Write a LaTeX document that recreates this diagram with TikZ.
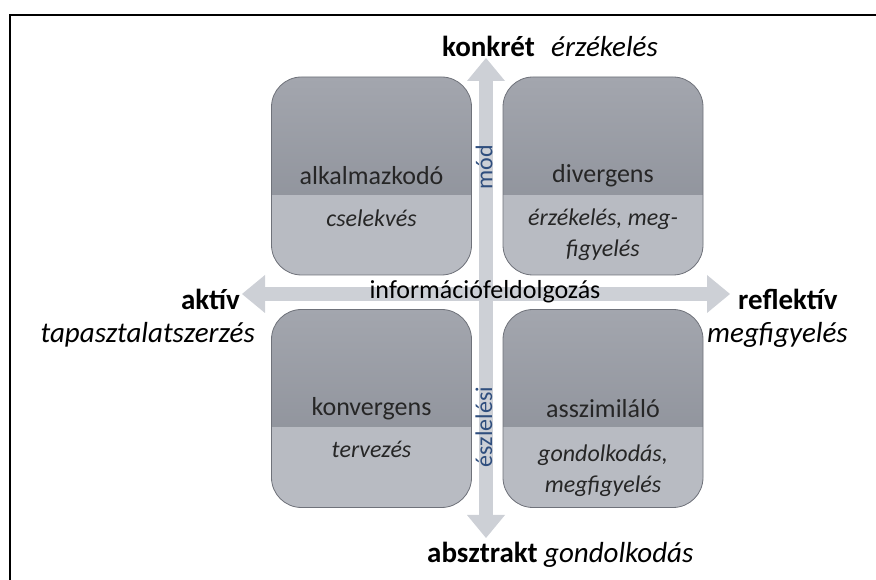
\documentclass[tikz,border=0pt]{standalone}
\usepackage{fontspec}
\setmainfont{Carlito}
\usetikzlibrary{arrows.meta, positioning, calc}

\definecolor{axisgray}{HTML}{CDD0D6}
\definecolor{boxtop}{HTML}{A3A6AE}
\definecolor{boxbot}{HTML}{868A93}
\definecolor{boxlow}{HTML}{B8BBC2}
\definecolor{boxedge}{HTML}{6F727A}
\definecolor{axisblue}{HTML}{2F4E7E}
\definecolor{boxtext}{HTML}{262626}

\begin{document}
\begin{tikzpicture}[x=1pt, y=1pt,
  >={Triangle[width=38pt 0 0, length=23pt 0 0, line width=0pt]},
  axis/.style={line width=14pt, axisgray},
  quad/.style={draw=boxedge, line width=0.8pt, rounded corners=30pt,
    minimum width=200pt, minimum height=198pt, inner sep=0pt,
    top color=boxtop, bottom color=boxbot,
    path picture={\fill[boxlow, sharp corners] (path picture bounding box.south west)
      rectangle ([yshift=80pt]path picture bounding box.south east);}},
  qtitle/.style={font=\fontsize{26}{31}\selectfont, text=boxtext, inner sep=0pt},
  qsub/.style={font=\fontsize{24}{31}\selectfont\itshape, text=boxtext,
    align=center, inner sep=0pt, anchor=base},
  pole/.style={font=\fontsize{29}{34}\selectfont\bfseries, inner sep=0pt},
  poleit/.style={font=\fontsize{29}{34}\selectfont\itshape, inner sep=0pt},
  axlabel/.style={font=\fontsize{24}{28}\selectfont, text=axisblue, inner sep=0pt, rotate=90}]
  \useasboundingbox (0,0) rectangle (876,580);
  % frame, only top and left edges are in view
  \draw[line width=2.5pt] (10,0) -- (10,565) -- (876,565);

  % axes
  \coordinate (ntop) at (486,522);
  \coordinate (nbot) at (486,42);
  \coordinate (wleft) at (242,286);
  \coordinate (eright) at (730,286);
  \draw[axis, <->] (nbot) -- (ntop);
  \draw[axis, <->] (wleft) -- (eright);

  % the four styles
  \node[quad] (alk) at (371.5,404) {};
  \node[quad] (div) at (603,404) {};
  \node[quad] (konv) at (371.5,171.5) {};
  \node[quad] (asz) at (603,171.5) {};

  \node[qtitle] at (alk) {alkalmazkodó};
  \node[qtitle] at (div) {divergens};
  \node[qtitle] at (konv) {konvergens};
  \node[qtitle] at (asz) {asszimiláló};

  % base of a two-line text is its last line
  \node[qsub] at ($(alk)+(0,-51)$) {cselekvés};
  \node[qsub] at ($(div)+(0,-81)$) {érzékelés, meg-\\figyelés};
  \node[qsub] at ($(konv)+(0,-49)$) {tervezés};
  \node[qsub] at ($(asz)+(0,-84)$) {gondolkodás,\\megfigyelés};

  % axis texts
  \node[qtitle, text=black, anchor=base] at (485,281) {információfeldolgozás};
  \node[axlabel] at (484,413) {mód};
  \node[axlabel] at (484,153) {észlelési};

  % poles
  \node[pole, anchor=base west] (konk) at (442,523) {konkrét};
  \node[poleit, base right=16pt of konk] {érzékelés};
  \node[pole, anchor=base west] (absz) at (427,17) {absztrakt};
  \node[poleit, base right=6pt of absz] {gondolkodás};
  \node[pole, anchor=base east] (akt) at (240,270) {aktív};
  \node[poleit, anchor=base east] at (255,237) {tapasztalatszerzés};
  \node[pole, anchor=base west] (refl) at (738,270) {reflektív};
  \node[poleit, anchor=base west] at (707,237) {megfigyelés};
\end{tikzpicture}
\end{document}
